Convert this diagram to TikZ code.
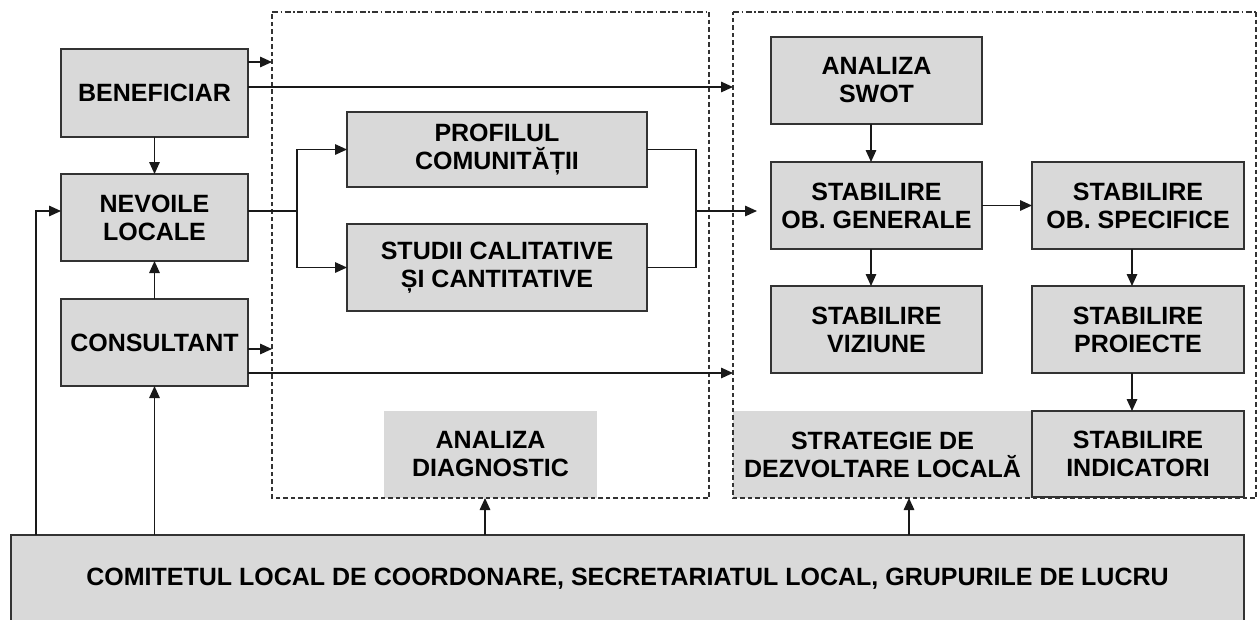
\documentclass[tikz,border=0pt]{standalone}
\usepackage{fontspec}
\setmainfont{Liberation Sans}
\usetikzlibrary{arrows.meta}
\definecolor{boxfill}{HTML}{D9D9D9}
\definecolor{edge}{HTML}{333333}
\tikzset{
  box/.style={draw=edge, line width=1.6pt, fill=boxfill, inner sep=0pt, outer sep=0pt, align=center,
    font=\bfseries\fontsize{25}{28}\selectfont, text=black},
  plain/.style={fill=boxfill, inner sep=0pt, outer sep=0pt, align=center,
    font=\bfseries\fontsize{25}{28}\selectfont, text=black},
  arr/.style={draw=black!90, line width=1.5pt, -{Triangle[length=12pt,width=10.5pt]}},
  ln/.style={draw=black!90, line width=1.5pt},
  dashbox/.style={draw=edge, line width=1.2pt, dash pattern=on 4.5pt off 3pt},
  dashdot/.style={draw=edge, line width=1.2pt, dash pattern=on 6pt off 2.5pt on 1.5pt off 2.5pt}
}
\begin{document}
\begin{tikzpicture}[x=1pt,y=-1pt]
\useasboundingbox (0,0) rectangle (1257,619);
\begin{scope}
\clip (0,0) rectangle (1257,619);
% unbordered grey nodes
\node[plain, minimum width=213pt, minimum height=87pt] (diag) at (490.5,454.5) {ANALIZA\\DIAGNOSTIC};
\node[plain, minimum width=299pt, minimum height=87pt] (strat) at (882.5,454.5) {STRATEGIE DE\\DEZVOLTARE LOCALĂ};
% bordered boxes
\node[box, minimum width=187pt, minimum height=88pt] (ben) at (154.5,93) {BENEFICIAR};
\node[box, minimum width=187pt, minimum height=87pt] (nev) at (154.5,217.5) {NEVOILE\\LOCALE};
\node[box, minimum width=187pt, minimum height=87pt] (con) at (154.5,342.5) {CONSULTANT};
\node[box, minimum width=300pt, minimum height=75pt] (prof) at (497,149.5) {PROFILUL\\COMUNITĂȚII};
\node[box, minimum width=300pt, minimum height=87pt] (stud) at (497,267.5) {STUDII CALITATIVE\\ȘI CANTITATIVE};
\node[box, minimum width=211pt, minimum height=87pt] (swot) at (876.5,80.5) {ANALIZA\\SWOT};
\node[box, minimum width=211pt, minimum height=87pt] (gen) at (876.5,205.5) {STABILIRE\\OB. GENERALE};
\node[box, minimum width=211pt, minimum height=87pt] (viz) at (876.5,329.5) {STABILIRE\\VIZIUNE};
\node[box, minimum width=212pt, minimum height=87pt] (spec) at (1138,205.5) {STABILIRE\\OB. SPECIFICE};
\node[box, minimum width=212pt, minimum height=87pt] (proi) at (1138,329.5) {STABILIRE\\PROIECTE};
\node[box, minimum width=212pt, minimum height=86pt] (ind) at (1138,454) {STABILIRE\\INDICATORI};
\node[box, minimum width=1233pt, minimum height=88pt] (com) at (627.5,579) {COMITETUL LOCAL DE COORDONARE, SECRETARIATUL LOCAL, GRUPURILE DE LUCRU};

% dashed frames
\coordinate (f1a) at (272,12);
\coordinate (f1b) at (709,498);
\coordinate (f2a) at (733,12);
\coordinate (f2b) at (1256,498);
\draw[dashdot] (f1a) -- (f1a -| f1b);
\draw[dashbox] (f1a -| f1b) -- (f1b) -- (f1b -| f1a) -- (f1a);
\draw[dashdot] (f2a) -- (f2a -| f2b);
\draw[dashbox] (f2a -| f2b) -- (f2b) -- (f2b -| f2a) -- (f2a);

% connector end points
\coordinate (t1) at (272,62);
\coordinate (t2) at (733,87);
\coordinate (t3) at (272,349);
\coordinate (t4) at (733,373);
\coordinate (split) at (297,211);
\coordinate (merge) at (696,211);
\coordinate (tgen) at (757,211);
\coordinate (fb) at (36,211);
\coordinate (c1) at (485,535);
\coordinate (c2) at (909,535);
\coordinate (s1) at (871,124);
\coordinate (s2) at (871,249);
\coordinate (s3) at (1132,249);
\coordinate (s4) at (1132,373);

\draw[arr] (t1 -| ben.east) -- (t1);
\draw[arr] (t2 -| ben.east) -- (t2);
\draw[arr] (t3 -| con.east) -- (t3);
\draw[arr] (t4 -| con.east) -- (t4);
\draw[arr] (ben.south) -- (nev.north);
\draw[arr] (con.north) -- (nev.south);
\draw[ln] (split -| nev.east) -- (split);
\draw[arr] (split) |- (prof.west);
\draw[arr] (split) |- (stud.west);
\draw[ln] (prof.east) -| (merge);
\draw[ln] (stud.east) -| (merge);
\draw[arr] (merge) -- (tgen);
\draw[arr] (fb |- com.north) -- (fb) -- (nev.west |- fb);
\draw[arr] (con.south |- com.north) -- (con.south);
\draw[arr] (c1) -- (c1 |- diag.south);
\draw[arr] (c2) -- (c2 |- strat.south);
\draw[arr] (s1) -- (s1 |- gen.north);
\draw[arr] (s2) -- (s2 |- viz.north);
\draw[arr] (s3) -- (s3 |- proi.north);
\draw[arr] (s4) -- (s4 |- ind.north);
\draw[arr] (gen.east) -- (spec.west);
\end{scope}
\end{tikzpicture}
\end{document}
